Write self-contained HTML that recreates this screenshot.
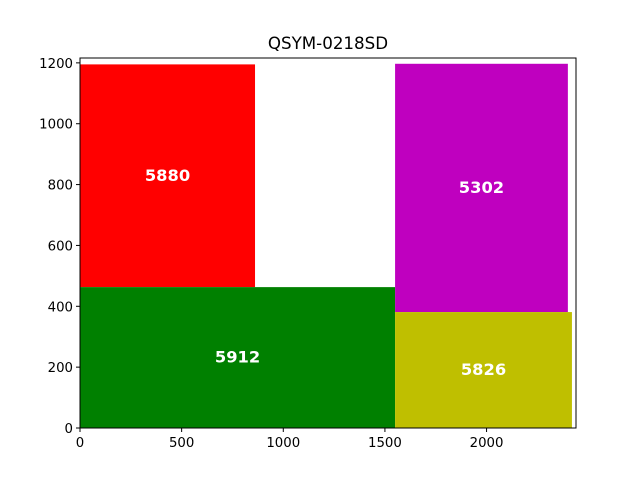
<!DOCTYPE html>
<html><head><meta charset="utf-8"><style>body{margin:0;background:#fff}svg{display:block;font-family:"DejaVu Sans","Liberation Sans",sans-serif}</style></head>
<body>
<svg id="c" width="640" height="480"></svg>
<script>
const labels=["5880","5912","5302","5826"];
const x0s=[0,0,1550,1550];
const x1s=[861,1550,2400,2420];
const y0s=[463,0,381,0];
const y1s=[1195,463,1197,381];
const colors=["#ff0000","#008000","#bf00bf","#bfbf00"];
const xticks=[0,500,1000,1500,2000];
const yticks=[0,200,400,600,800,1000,1200];
const L=80,R=576,T=58,B=428,xmax=2440,ymax=1216;
const sx=v=>L+v/xmax*(R-L), sy=v=>B-v/ymax*(B-T);
const svg=document.getElementById('c');const NS="http://www.w3.org/2000/svg";
function mk(t,a,p){const e=document.createElementNS(NS,t);for(const k in a)e.setAttribute(k,a[k]);(p||svg).appendChild(e);return e;}
const title=mk('text',{x:(L+R)/2,y:49,'text-anchor':'middle','font-size':16.7});title.textContent="QSYM-0218SD";


for(let i=0;i<labels.length;i++){
 const r=mk('rect',{x:sx(x0s[i]),y:sy(y1s[i]),width:sx(x1s[i])-sx(x0s[i]),height:sy(y0s[i])-sy(y1s[i]),fill:colors[i]});
 
 
 const t=mk('text',{x:(sx(x0s[i])+sx(x1s[i]))/2,y:(sy(y0s[i])+sy(y1s[i]))/2+5,'text-anchor':'middle','font-size':16.3,'font-weight':'bold',fill:'#fff'});
 t.textContent=labels[i];
 
 
}
const fr=mk('rect',{x:L,y:T,width:R-L,height:B-T,fill:'none',stroke:'#000','stroke-width':1});


xticks.forEach(v=>{const x=sx(v);mk('line',{x1:x,x2:x,y1:B,y2:B+4,stroke:'#000'});
 const t=mk('text',{x:x,y:B+19,'text-anchor':'middle','font-size':13.3});t.textContent=v;
 
 });
yticks.forEach(v=>{const y=sy(v);mk('line',{x1:L-4,x2:L,y1:y,y2:y,stroke:'#000'});
 const t=mk('text',{x:L-7,y:y+5,'text-anchor':'end','font-size':13.3});t.textContent=v;
 
 });
</script>
</body></html>
